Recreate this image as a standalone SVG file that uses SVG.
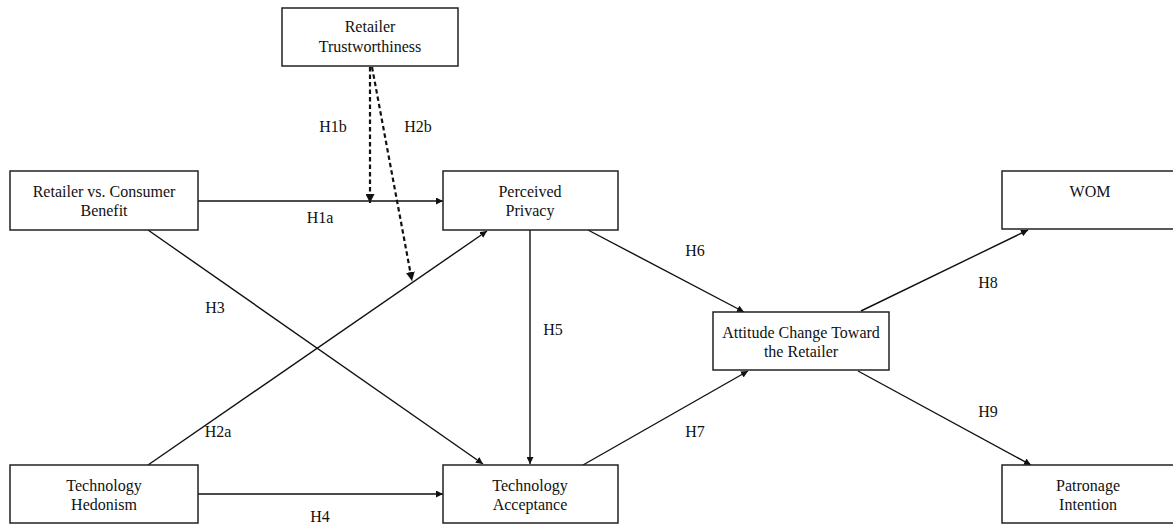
<svg xmlns="http://www.w3.org/2000/svg" width="1173" height="524" viewBox="0 0 1173 524">
<style>
.box{fill:#fff;stroke:#222;stroke-width:1.5}
.t{font-family:"Liberation Serif","Times New Roman",serif;font-size:16px;fill:#111;text-anchor:middle}
.c{stroke:#111;stroke-width:1.4;fill:none;marker-end:url(#ah)}
.d{stroke:#111;stroke-width:2.2;fill:none;stroke-dasharray:4.5 3;marker-end:url(#ah2)}
</style>
<defs>
<marker id="ah" viewBox="0 0 10 10" refX="10" refY="5" markerWidth="7" markerHeight="7" markerUnits="userSpaceOnUse" orient="auto"><path d="M0,0 L10,5 L0,10 z" fill="#111"/></marker>
<marker id="ah2" viewBox="0 0 10 10" refX="10" refY="5" markerWidth="9" markerHeight="9" markerUnits="userSpaceOnUse" orient="auto"><path d="M0,0 L10,5 L0,10 z" fill="#111"/></marker>
</defs>
<rect width="1173" height="524" fill="#fff"/>
<g id="connectors">
<line class="c" x1="198" y1="201" x2="443" y2="201"/>
<line class="c" x1="198" y1="494" x2="443" y2="494"/>
<line class="c" x1="148" y1="230" x2="483" y2="464"/>
<line class="c" x1="148" y1="465" x2="487" y2="231"/>
<line class="c" x1="530" y1="230" x2="530" y2="464"/>
<line class="c" x1="588" y1="230" x2="744" y2="312"/>
<line class="c" x1="583" y1="465" x2="748" y2="371"/>
<line class="c" x1="861" y1="311" x2="1028" y2="230"/>
<line class="c" x1="858" y1="371" x2="1031" y2="465"/>
<line class="d" x1="370" y1="67" x2="370" y2="203"/>
<line class="d" x1="372" y1="67" x2="412" y2="281"/>
<g class="t">
<text x="333" y="132">H1b</text>
<text x="418" y="132">H2b</text>
<text x="320" y="223">H1a</text>
<text x="215" y="313">H3</text>
<text x="218" y="437">H2a</text>
<text x="553" y="335">H5</text>
<text x="695" y="256">H6</text>
<text x="695" y="437">H7</text>
<text x="988" y="288">H8</text>
<text x="988" y="417">H9</text>
<text x="320" y="522">H4</text>
</g>
</g>
<g id="retailer-trustworthiness">
<rect class="box" x="282" y="8" width="176" height="58"/>
<text class="t" x="370" y="32">Retailer</text>
<text class="t" x="370" y="52">Trustworthiness</text>
</g>
<g id="retailer-consumer-benefit">
<rect class="box" x="10" y="171" width="188" height="59"/>
<text class="t" x="104" y="197">Retailer vs. Consumer</text>
<text class="t" x="104" y="216">Benefit</text>
</g>
<g id="perceived-privacy">
<rect class="box" x="443" y="171" width="175" height="59"/>
<text class="t" x="530" y="197">Perceived</text>
<text class="t" x="530" y="216">Privacy</text>
</g>
<g id="wom">
<rect class="box" x="1002" y="171" width="176" height="58"/>
<text class="t" x="1090" y="197">WOM</text>
</g>
<g id="attitude-change">
<rect class="box" x="713" y="312" width="176" height="58"/>
<text class="t" x="801" y="338">Attitude Change Toward</text>
<text class="t" x="801" y="357">the Retailer</text>
</g>
<g id="technology-hedonism">
<rect class="box" x="10" y="465" width="188" height="58"/>
<text class="t" x="104" y="491">Technology</text>
<text class="t" x="104" y="510">Hedonism</text>
</g>
<g id="technology-acceptance">
<rect class="box" x="443" y="465" width="175" height="58"/>
<text class="t" x="530" y="491">Technology</text>
<text class="t" x="530" y="510">Acceptance</text>
</g>
<g id="patronage-intention">
<rect class="box" x="1002" y="465" width="176" height="58"/>
<text class="t" x="1088" y="491">Patronage</text>
<text class="t" x="1088" y="510">Intention</text>
</g>
</svg>
